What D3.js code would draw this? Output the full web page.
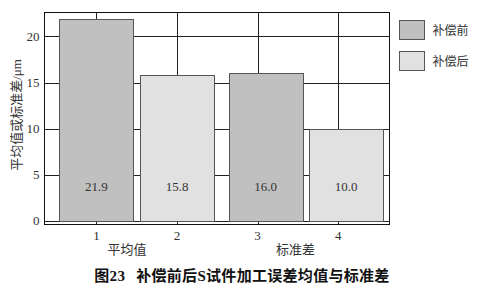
<!DOCTYPE html>
<html>
<head>
<meta charset="utf-8">
<script src="https://cdn.jsdelivr.net/npm/d3@7"></script>
<style>
  body { margin: 0; background: #fff; }
  text { font-family: "Liberation Serif", "Noto Sans CJK SC", serif; fill: #333; }
</style>
</head>
<body>
<div id="chart"></div>
<script>
// data
var barX = [1, 2, 3.1, 4.1];
var values = [21.9, 15.8, 16.0, 10.0];
var series = ["补偿前", "补偿后", "补偿前", "补偿后"];
var seriesNames = ["补偿前", "补偿后"];
var xTicks = [1, 2, 3, 4];
var yTicks = [0, 5, 10, 15, 20];
var groups = ["平均值", "标准差"];
var groupX = [1.38, 3.47];

var colors = {"补偿前": "#c0c0c0", "补偿后": "#e1e1e1"};

var W = 478, H = 290;
var svg = d3.select("#chart").append("svg")
    .attr("width", W)
    .attr("height", H);

// plot area
var pLeft = 44.5, pRight = 389.5, pTop = 12.5, pBottom = 224.5;

var x = d3.scaleLinear()
    .domain([0.355, 4.637])
    .range([pLeft, pRight]);
var y = d3.scaleLinear()
    .domain([-0.38, 22.6])
    .range([pBottom, pTop]);

var barW = x(1.92) - x(1);

// grid lines
svg.append("g").selectAll("line")
  .data(yTicks)
  .enter().append("line")
    .attr("x1", pLeft).attr("x2", pRight)
    .attr("y1", function(d) { return Math.round(y(d)) + 0.5; })
    .attr("y2", function(d) { return Math.round(y(d)) + 0.5; })
    .attr("stroke", "#222").attr("stroke-width", 1);

svg.append("g").selectAll("line")
  .data(xTicks)
  .enter().append("line")
    .attr("x1", function(d) { return Math.round(x(d)) + 0.5; })
    .attr("x2", function(d) { return Math.round(x(d)) + 0.5; })
    .attr("y1", pTop).attr("y2", pBottom)
    .attr("stroke", "#222").attr("stroke-width", 1);

// bars
svg.append("g").selectAll("rect")
  .data(values)
  .enter().append("rect")
    .attr("x", function(d, i) { return Math.round(x(barX[i]) - barW / 2) + 0.5; })
    .attr("y", function(d) { return Math.round(y(d)) + 0.5; })
    .attr("width", Math.round(barW))
    .attr("height", function(d) { return Math.round(y(0)) - Math.round(y(d)); })
    .attr("fill", function(d, i) { return colors[series[i]]; })
    .attr("stroke", "#555")
    .attr("stroke-width", 1);

// value labels
svg.append("g").selectAll("text")
  .data(values)
  .enter().append("text")
    .attr("x", function(d, i) { return x(barX[i]); })
    .attr("y", y(3.75))
    .attr("text-anchor", "middle")
    .attr("dominant-baseline", "central")
    .style("font-size", "13px")
    .text(function(d) { return d.toFixed(1); });

// frame
svg.append("rect")
    .attr("x", pLeft).attr("y", pTop)
    .attr("width", pRight - pLeft).attr("height", pBottom - pTop)
    .attr("fill", "none")
    .attr("stroke", "#111")
    .attr("stroke-width", 1);

// y tick labels
svg.append("g").selectAll("text")
  .data(yTicks)
  .enter().append("text")
    .attr("x", 39.5)
    .attr("y", function(d) { return y(d); })
    .attr("text-anchor", "end")
    .attr("dominant-baseline", "central")
    .style("font-size", "13px")
    .text(function(d) { return d; });

// x tick labels
svg.append("g").selectAll("text")
  .data(xTicks)
  .enter().append("text")
    .attr("x", function(d) { return x(d); })
    .attr("y", 235.5)
    .attr("text-anchor", "middle")
    .attr("dominant-baseline", "central")
    .style("font-size", "13px")
    .text(function(d) { return d; });

// group labels
svg.append("g").selectAll("text")
  .data(groups)
  .enter().append("text")
    .attr("x", function(d, i) { return x(groupX[i]); })
    .attr("y", 249)
    .attr("text-anchor", "middle")
    .attr("dominant-baseline", "central")
    .style("font-size", "13px")
    .text(function(d) { return d; });

// y axis title
svg.append("text")
    .attr("transform", "translate(16,115) rotate(-90)")
    .attr("text-anchor", "middle")
    .attr("dominant-baseline", "central")
    .style("font-size", "13px")
    .text("平均值或标准差/μm");

// legend
var legend = svg.append("g").selectAll("g")
  .data(seriesNames)
  .enter().append("g")
    .attr("transform", function(d, i) { return "translate(399.5," + (20.5 + i * 31) + ")"; });
legend.append("rect")
    .attr("width", 25).attr("height", 19)
    .attr("fill", function(d) { return colors[d]; })
    .attr("stroke", "#555");
legend.append("text")
    .attr("x", 33)
    .attr("y", 10)
    .attr("dominant-baseline", "central")
    .style("font-size", "12px")
    .text(function(d) { return d; });

// caption
var cap = svg.append("text")
    .attr("x", 242)
    .attr("y", 276)
    .attr("text-anchor", "middle")
    .attr("dominant-baseline", "central")
    .style("font-size", "15px")
    .style("font-weight", "bold")
    .style("letter-spacing", "0.3px")
    .style("fill", "#111");
cap.append("tspan").text("图23");
cap.append("tspan").attr("dx", 11).text("补偿前后S试件加工误差均值与标准差");
</script>
</body>
</html>
